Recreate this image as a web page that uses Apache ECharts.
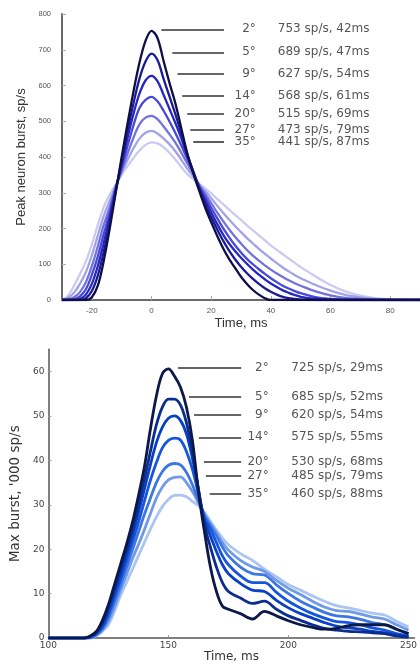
<!DOCTYPE html>
<html><head><meta charset="utf-8">
<script src="https://cdn.jsdelivr.net/npm/echarts@6/dist/echarts.min.js"></script>
<style>html,body{margin:0;padding:0;background:#fff}#c{width:420px;height:664px}</style>
</head><body><div id="c"></div>
<script>
// ---------- data: top panel ----------
const topX = [-30,-28,-26,-24,-22,-20,-18,-16,-14,-12,-10,-8,-6,-4,-2,0,2,4,6,8,10,12,14,16,18,20,22,24,26,28,30,32,34,36,38,40,42,44,46,48,50,55,60,65,70,75,80,85,90];
const topY02 = [0,0,0,0,0,8,40,110,200,300,400,495,585,665,725,753, 733,670,608,550,480,410,355, 305,258,218,180,145,115,90,65,45,28,15,5,0,0,0,0,0,0, 0,0,0,0,0,0,0,0];
const topY05 = [0,0,0,0,5,25,68,135,215,304,390,475,552,620,667,689, 671,620,570,520,466,408,358, 310,268,232,198,166,138,114,93,75,59,45,33,23,15,9,5,3,1, 0,0,0,0,0,0,0,0];
const topY09 = [0,0,0,3,15,45,95,160,230,308,380,455,522,578,614,627, 612,575,535,495,452,404,360, 314,278,245,213,183,158,137,118,101,85,71,58,46,36,27,20,14,9, 3,1,0,0,0,0,0,0];
const topY14 = [0,0,2,10,30,70,122,185,245,312,370,432,490,538,560,568, 556,530,500,467,432,395,358, 318,288,258,229,201,176,153,133,115,100,86,73,61,50,40,32,25,19, 8,3,1,0,0,0,0,0];
const topY20 = [0,2,8,22,50,95,150,210,260,316,362,410,455,492,510,515, 506,486,464,440,412,382,353, 321,297,271,245,221,198,177,158,140,124,110,97,85,74,64,55,47,40, 24,13,6,3,1,0,0,0];
const topY27 = [0,6,20,45,78,125,180,235,278,320,356,392,425,452,468,473, 466,452,436,416,392,367,346, 323,305,285,264,244,225,207,190,173,158,143,129,116,103,91,80,70,61, 42,26,14,7,3,1,0,0];
const topY35 = [0,12,40,72,108,155,210,260,295,323,350,375,398,418,434,441, 438,428,412,393,372,352,338, 325,312,298,283,268,253,238,224,209,195,181,167,153,140,128,116,104,92, 66,42,24,12,5,2,1,0];
const topXTicks = [-20,0,20,40,60,80];
const topYTicks = [0,100,200,300,400,500,600,700,800];

// ---------- data: bottom panel ----------
const botX = [100,110,115,117.5,120,122.5,125,127.5,130,132.5,135,137.5,140,142.5,145,147.5,150,152.5,155,157.5,160,162.5,165,167.5,170,172.5,175,180,185,190,195,200,205,210,215,220,225,230,235,240,245,250];
const botY02 = [0,0,0,0.5,1.5,4,7.5,12,16.5,21,26,32,38.5,47,54.5,59.5,60.6,59,56.5,52,44.5,33,24,16,10.5,7.2,6.5, 5.5,4.3,6,5,3.9,3,2.4,2,2.2,2.8,3,3,3,2,1];
const botY05 = [0,0,0,0.4,1.3,3.4,6.8,11,15.3,19.8,24.6,30,35.8,42,48,52,53.8,53.8,52.5,48.5,42,33.5,25.5,20.5,16,12.5,10.5, 9,7.8,8.3,6.5,5,4,3,2.2,1.8,1.5,1.4,1.2,1,0.5,0.2];
const botY09 = [0,0,0,0.3,1.1,2.9,6.1,10.1,14.2,18.6,23.2,28.2,33.5,39,44,47.5,49.5,50,49,46,40.5,33.5,26.5,23,19.5,16.5,14.5, 12.3,10.8,10.5,8.5,6.8,5.5,4.5,3.5,2.7,2.3,2,1.5,1.2,0.7,0.3];
const botY14 = [0,0,0,0.2,1.0,2.5,5.4,9.2,13.1,17.3,21.6,26,30.8,35.5,39.5,42.8,44.5,45,44.6,42,38,32.5,27,24.5,21.5,18.5,16.5, 14,12.5,12.5,10.3,8.3,6.8,5.5,4.5,3.7,3.5,3,2.3,1.8,1,0.5];
const botY20 = [0,0,0,0.1,0.8,2.1,4.6,8.1,11.9,15.8,19.8,23.8,27.8,31.5,35,37.5,38.9,39.3,39,37.3,34.5,31,27.5,25.3,23,20.5,18.5, 16,14.5,14.2,12,10,8.3,7,5.8,5,4.8,4.2,3.5,3,2,1];
const botY27 = [0,0,0,0,0.6,1.8,3.8,7,10.7,14.2,17.8,21,24.4,28,31.5,34,35.6,36.2,36.3,35,33,30.5,28,25.8,23.7,21.5,19.8, 17.5,16,15,13,11.2,9.8,8.3,7,6.2,6,5.4,4.7,4.3,3,1.8];
const botY35 = [0,0,0,0,0.5,1.5,3,6,9.5,12.5,15.5,18.5,21.5,24.5,27.3,29.6,31.2,32.1,32.2,31.8,30.8,29.8,28.3,26.3,24.3,22.5,21, 19,17.5,15.5,13.8,12,10.8,9.5,8.3,7.3,6.8,6.2,5.6,5.2,3.8,2.5];
const botXTicks = [100,150,200,250];
const botYTicks = [0,10,20,30,40,50,60];

// ---------- labels ----------
const degLabels = ['2°','5°','9°','14°','20°','27°','35°'];
const topValueLabels = ['753 sp/s, 42ms','689 sp/s, 47ms','627 sp/s, 54ms','568 sp/s, 61ms','515 sp/s, 69ms','473 sp/s, 79ms','441 sp/s, 87ms'];
const botValueLabels = ['725 sp/s, 29ms','685 sp/s, 52ms','620 sp/s, 54ms','575 sp/s, 55ms','530 sp/s, 68ms','485 sp/s, 79ms','460 sp/s, 88ms'];
// annotation anchors (data units)
const topLabelY = [757,693,632,571,520,477,443];
const topLeaderStart = [3.3,7,8.7,10.3,12,13,14];
const topLeaderEnd = 24.3, topDegX = 35.3, topValX = 42;
const botLabelY = [60.9,54.3,50.3,45.2,39.6,36.6,32.5];
const botLeaderStart = [154,158.6,160.7,162.7,164.8,165.6,167.2];
const botLeaderEnd = 180.3, botDegX = 192.2, botValX = 200.8;

// ---------- styling ----------
const topColors = ['#0f0f46','#1b1b94','#2626c4','#4848d6','#7272de','#a2a2e8','#cbcbf2'];
const botColors = ['#0c1848','#0b2c90','#0a40c6','#1656dd','#3c76e3','#7099ea','#abc5f2'];
const topSets = [topY02,topY05,topY09,topY14,topY20,topY27,topY35];
const botSets = [botY02,botY05,botY09,botY14,botY20,botY27,botY35];

const series = [];
for (let k = 6; k >= 0; k--) {
  series.push({type:'line', xAxisIndex:0, yAxisIndex:0, smooth:0.35, symbol:'none', silent:true, animation:false,
    data: topX.map((x,i)=>[x, topSets[k][i]]), lineStyle:{color:topColors[k], width:2.3}});
}
for (let k = 6; k >= 0; k--) {
  series.push({type:'line', xAxisIndex:1, yAxisIndex:1, smooth:0.35, symbol:'none', silent:true, animation:false,
    data: botX.map((x,i)=>[x, botSets[k][i]]), lineStyle:{color:botColors[k], width:2.8}});
}
const txt = {fontFamily:'DejaVu Sans', fontSize:12, color:'#2a2a2a'};
function annot(idx, ys, starts, end, degX, valX, vals) {
  series.push({type:'line', xAxisIndex:idx, yAxisIndex:idx, data:[], silent:true, animation:false,
    markLine:{symbol:['none','none'], silent:true, animation:false, label:{show:false},
      lineStyle:{color:'#333', width:1.6, type:'solid'},
      data: ys.map((y,i)=>[{coord:[starts[i], y]},{coord:[end, y]}])}});
  series.push({type:'scatter', xAxisIndex:idx, yAxisIndex:idx, symbolSize:2, itemStyle:{color:'rgba(0,0,0,0)'}, silent:true, animation:false,
    data: ys.map((y,i)=>({value:[degX, y], name:degLabels[i]})),
    label:{show:true, position:'left', distance:0, formatter:p=>p.name, ...txt}});
  series.push({type:'scatter', xAxisIndex:idx, yAxisIndex:idx, symbolSize:2, itemStyle:{color:'rgba(0,0,0,0)'}, silent:true, animation:false,
    data: ys.map((y,i)=>({value:[valX, y], name:vals[i]})),
    label:{show:true, position:'right', distance:0, formatter:p=>p.name, ...txt}});
}
annot(0, topLabelY, topLeaderStart, topLeaderEnd, topDegX, topValX, topValueLabels);
annot(1, botLabelY, botLeaderStart, botLeaderEnd, botDegX, botValX, botValueLabels);

const chart = echarts.init(document.getElementById('c'), null, {renderer:'canvas'});
chart.setOption({
  animation:false,
  backgroundColor:'#fff',
  grid:[
    {left:62, top:14, width:360, height:286, containLabel:false},
    {left:43, top:349.3, width:372, height:290, containLabel:false}
  ],
  xAxis:[
    {type:'value', gridIndex:0, min:-30, max:90, splitLine:{show:false},
     axisLine:{onZero:false, lineStyle:{color:'#6a6a6a', width:2}},
     axisTick:{inside:true, length:4, customValues:topXTicks, lineStyle:{color:'#aaa'}},
     axisLabel:{customValues:topXTicks, fontFamily:'Liberation Sans', fontSize:8, color:'#555', margin:7},
     name:'Time, ms', nameLocation:'middle', nameGap:17, nameTextStyle:{fontFamily:'Liberation Sans', fontSize:13, color:'#333'}},
    {type:'value', gridIndex:1, min:100, max:252.5, splitLine:{show:false},
     axisLine:{onZero:false, lineStyle:{color:'#555', width:1.5}},
     axisTick:{inside:true, length:3, customValues:botXTicks, lineStyle:{color:'#999'}},
     axisLabel:{customValues:botXTicks, fontFamily:'DejaVu Sans', fontSize:9, color:'#444', margin:3},
     name:'Time, ms', nameLocation:'middle', nameGap:10, nameTextStyle:{fontFamily:'DejaVu Sans', fontSize:12, color:'#333'}}
  ],
  yAxis:[
    {type:'value', gridIndex:0, min:0, max:800, splitLine:{show:false},
     axisLine:{show:true, onZero:false, lineStyle:{color:'#6a6a6a', width:2}},
     axisTick:{show:true, inside:true, length:4, customValues:topYTicks, lineStyle:{color:'#aaa'}},
     axisLabel:{customValues:topYTicks, fontFamily:'Liberation Sans', fontSize:7.5, color:'#555', margin:11},
     name:'Peak neuron burst, sp/s', nameLocation:'middle', nameGap:34, nameTextStyle:{fontFamily:'Liberation Sans', fontSize:13, color:'#333'}},
    {type:'value', gridIndex:1, min:0, max:65, splitLine:{show:false},
     axisLine:{show:true, onZero:false, lineStyle:{color:'#555', width:1.5}},
     axisTick:{show:true, inside:true, length:3, customValues:botYTicks, lineStyle:{color:'#999'}},
     axisLabel:{customValues:botYTicks, fontFamily:'DejaVu Sans', fontSize:9, color:'#444', margin:4},
     name:"Max burst, '000 sp/s", nameLocation:'middle', nameGap:19, nameTextStyle:{fontFamily:'DejaVu Sans', fontSize:13.5, color:'#333'}}
  ],
  series: series
});
</script></body></html>
